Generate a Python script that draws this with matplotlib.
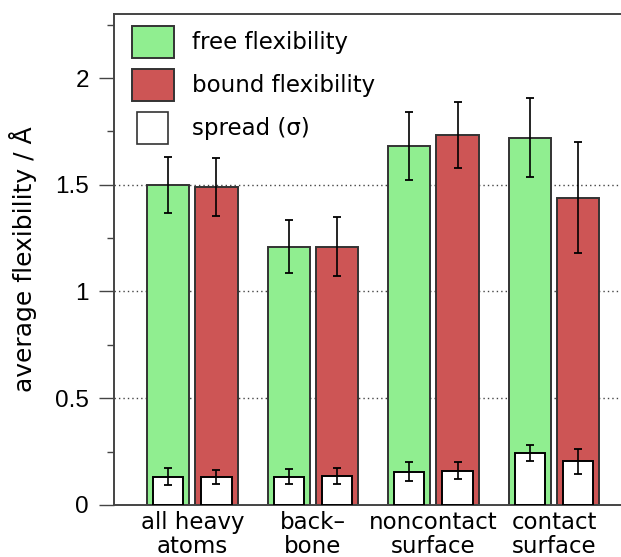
import numpy as np
import matplotlib.pyplot as plt
from matplotlib.patches import Patch, Rectangle
from matplotlib.legend_handler import HandlerPatch
from matplotlib.ticker import MultipleLocator

plt.rcParams['font.family'] = ['DejaVu Sans']

categories = ["all heavy\natoms", "back\u2013\nbone", "noncontact\nsurface", "contact\nsurface"]

free_mean = [1.50, 1.21, 1.68, 1.72]
free_err = [0.13, 0.125, 0.16, 0.185]
bound_mean = [1.49, 1.21, 1.735, 1.44]
bound_err = [0.135, 0.137, 0.155, 0.258]

free_spread = [0.133, 0.133, 0.156, 0.242]
free_spread_err = [0.038, 0.036, 0.043, 0.037]
bound_spread = [0.130, 0.134, 0.161, 0.205]
bound_spread_err = [0.034, 0.037, 0.039, 0.058]

green = "#90ee90"
red = "#cd5555"
edge = "#333333"

x = np.arange(len(categories))
off = 0.2
w_main = 0.35
w_spread = 0.25

fig = plt.figure(figsize=(6.21, 5.57), dpi=100)
ax = fig.add_axes([0.1836, 0.0934, 0.8164, 0.8815])

for yv in (0.5, 1.0, 1.5):
    ax.axhline(yv, color="#444444", linestyle=(0, (1, 2.2)), linewidth=1.0, zorder=0)

err_kw = dict(ecolor="black", elinewidth=1.2, capsize=2.8, capthick=1.3)

ax.bar(x - off, free_mean, w_main, color=green, edgecolor=edge, linewidth=1.4,
       yerr=free_err, error_kw=err_kw, zorder=2)
ax.bar(x + off, bound_mean, w_main, color=red, edgecolor=edge, linewidth=1.4,
       yerr=bound_err, error_kw=err_kw, zorder=2)
ax.bar(x - off, free_spread, w_spread, color="white", edgecolor="black", linewidth=1.4,
       yerr=free_spread_err, error_kw=err_kw, zorder=3)
ax.bar(x + off, bound_spread, w_spread, color="white", edgecolor="black", linewidth=1.4,
       yerr=bound_spread_err, error_kw=err_kw, zorder=3)

ax.set_xlim(-0.65, 3.556)
ax.set_ylim(0, 2.3)
ax.set_xticks(x)
ax.set_xticklabels(categories, fontsize=16.5, linespacing=1.08)
ax.tick_params(axis="x", length=0, pad=4)
ax.set_yticks([0, 0.5, 1, 1.5, 2])
ax.set_yticklabels(["0", "0.5", "1", "1.5", "2"], family=["Liberation Sans"])
ax.yaxis.set_minor_locator(MultipleLocator(0.25))
ax.tick_params(axis="y", which="major", length=11, width=1.0, labelsize=17.5,
               color="#444444", pad=7)
ax.tick_params(axis="y", which="minor", length=5, width=1.0, color="#444444")
ax.set_ylabel("average flexibility / \u00c5", fontsize=18, labelpad=13)

for side in ("left", "top", "bottom"):
    ax.spines[side].set_color("#444444")
    ax.spines[side].set_linewidth(1.4)
ax.spines["right"].set_visible(False)


def narrow_box(legend, orig_handle, xdescent, ydescent, width, height, fontsize):
    return Rectangle((-xdescent + width * 0.13, -ydescent), width * 0.74, height)


handles = [
    Patch(facecolor=green, edgecolor=edge, linewidth=1.4),
    Patch(facecolor=red, edgecolor=edge, linewidth=1.4),
    Patch(facecolor="white", edgecolor="#333333", linewidth=1.2),
]
ax.legend(handles, ["free flexibility", "bound flexibility", "spread (\u03c3)"],
          loc="upper left", bbox_to_anchor=(0.0174, 0.994), frameon=False, fontsize=16.5,
          handlelength=1.83, handleheight=1.77, labelspacing=0.48, handletextpad=0.8,
          borderaxespad=0.0, borderpad=0.4,
          handler_map={handles[2]: HandlerPatch(patch_func=narrow_box)})

fig.savefig("out.png", dpi=100)
